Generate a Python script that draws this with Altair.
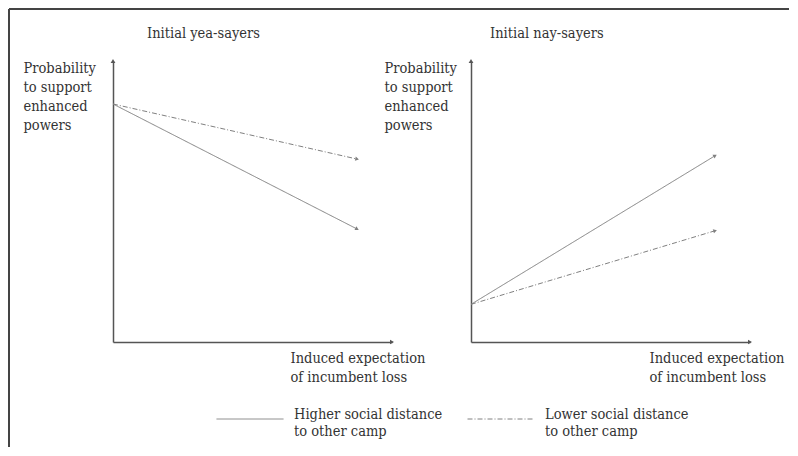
import math
import altair as alt
import pandas as pd

# ---- data ----
series = ["Higher social distance to other camp", "Lower social distance to other camp"]
panels = ["Initial yea-sayers", "Initial nay-sayers"]
x_vals = [0.0, 0.875]
yea_higher = [0.847, 0.402]
yea_lower = [0.847, 0.651]
nay_higher = [0.134, 0.663]
nay_lower = [0.134, 0.396]
y_title = ["Probability", "to support", "enhanced", "powers"]
x_title = ["Induced expectation", "of incumbent loss"]

# ---- style ----
W, H = 279, 281
FONT = "'DejaVu Serif Condensed', 'Liberation Serif', serif"
FS = 14.5
TXT = "#333333"
AX = "#555555"
LN = "#808080"
DASHES = [[1, 0], [5, 2, 1, 2]]


def panel_df(higher, lower):
    rows = []
    for s, ys in zip(series, [higher, lower]):
        for x, y in zip(x_vals, ys):
            rows.append({"series": s, "x": x, "y": y})
    return pd.DataFrame(rows)


def end_df(higher, lower):
    rows = []
    for s, ys in zip(series, [higher, lower]):
        dx = (x_vals[1] - x_vals[0]) * W
        dy = (ys[0] - ys[1]) * H
        ang = math.degrees(math.atan2(dy, dx)) % 360
        rows.append({"series": s, "x": x_vals[1], "y": ys[1], "angle": ang})
    return pd.DataFrame(rows)


legend = alt.Legend(
    title=None, orient="none", legendX=103, legendY=324, direction="horizontal",
    columns=2, symbolType="stroke", symbolSize=67 * 67, symbolStrokeColor=LN,
    symbolStrokeWidth=1, labelFont=FONT, labelFontSize=FS, labelColor=TXT,
    labelOffset=10, labelLimit=400, columnPadding=22, labelBaseline="alphabetic",
    labelExpr="split(replace(datum.label, ' to ', '|to '), '|')", padding=0,
)


def panel(title, higher, lower, title_dx, ytitle_x, xtitle_x, border):
    xenc = alt.X("x:Q", scale=alt.Scale(domain=[0, 1], nice=False, zero=False),
                 axis=alt.Axis(title=x_title, ticks=False, labels=False, grid=False,
                               domainColor=AX, domainWidth=1.5, titleX=xtitle_x, titleY=20,
                               titleAlign="left", titleAngle=0, titleBaseline="alphabetic",
                               titleFont=FONT, titleFontSize=FS, titleFontWeight="normal",
                               titleColor=TXT, titleLineHeight=19))
    yenc = alt.Y("y:Q", scale=alt.Scale(domain=[0, 1], nice=False, zero=False),
                 axis=alt.Axis(title=y_title, ticks=False, labels=False, grid=False,
                               domainColor=AX, domainWidth=1.5, titleX=ytitle_x, titleY=11,
                               titleAlign="left", titleAngle=0, titleBaseline="alphabetic",
                               titleFont=FONT, titleFontSize=FS, titleFontWeight="normal",
                               titleColor=TXT, titleLineHeight=19))
    dash = alt.StrokeDash("series:N", scale=alt.Scale(domain=series, range=DASHES), legend=legend)

    lines = alt.Chart(panel_df(higher, lower)).mark_line(color=LN, strokeWidth=1).encode(
        x=xenc, y=yenc, strokeDash=dash)
    heads = alt.Chart(end_df(higher, lower)).mark_point(
        shape="triangle-right", filled=True, size=18, color=LN, opacity=1).encode(
        x=xenc, y=yenc, angle=alt.Angle("angle:Q", scale=None))
    axis_heads = alt.Chart(pd.DataFrame({"x": [0.0, 1.0], "y": [1.0, 0.0],
                                         "shape": ["triangle-up", "triangle-right"]})).mark_point(
        filled=True, size=22, color=AX, opacity=1).encode(
        x=xenc, y=yenc, shape=alt.Shape("shape:N", scale=None))
    ttl = alt.Chart(pd.DataFrame({"t": [title]})).mark_text(
        font=FONT, fontSize=FS, color=TXT, align="left", baseline="alphabetic").encode(
        text="t:N", x=alt.value(title_dx), y=alt.value(-23))
    layers = [lines, heads, axis_heads, ttl]
    if border:
        b = pd.DataFrame({"b": [0]})
        left = alt.Chart(b).mark_rule(color="#444444", strokeWidth=2).encode(
            x=alt.value(-104), y=alt.value(-52), y2=alt.value(386))
        top = alt.Chart(b).mark_rule(color="#444444", strokeWidth=2).encode(
            x=alt.value(-104), x2=alt.value(676), y=alt.value(-52))
        layers += [left, top]
    return alt.layer(*layers).properties(width=W, height=H)


p1 = panel(panels[0], yea_higher, yea_lower, 34, -90, 177, True)
p2 = panel(panels[1], nay_higher, nay_lower, 19, -87, 178, False)

chart = alt.hconcat(p1, p2, spacing=79, bounds="flush").properties(padding=0).configure_view(stroke=None)

chart.save("out.html", embed_options={"renderer": "svg", "actions": False})
